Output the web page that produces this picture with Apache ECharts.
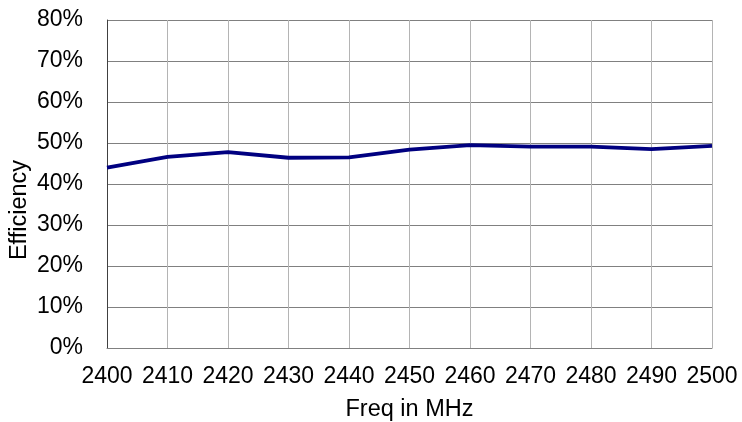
<!DOCTYPE html>
<html>
<head>
<meta charset="utf-8">
<script src="https://cdn.jsdelivr.net/npm/echarts@6/dist/echarts.min.js"></script>
<style>html,body{margin:0;padding:0;background:#fff}#c{width:742px;height:422px}</style>
</head>
<body>
<div id="c"></div>
<script>
var freqs = [2400, 2410, 2420, 2430, 2440, 2450, 2460, 2470, 2480, 2490, 2500];
var efficiency = [44.0, 46.6, 47.8, 46.4, 46.5, 48.4, 49.5, 49.1, 49.1, 48.5, 49.3];
var seriesName = 'Efficiency';
var xTitle = 'Freq in MHz';
var yTitle = 'Efficiency';

var chart = echarts.init(document.getElementById('c'));
var font = 'Liberation Sans, Arial, sans-serif';
chart.setOption({
  animation: false,
  grid: {left: 107, right: 30, top: 20, bottom: 74, containLabel: false, outerBoundsMode: 'none'},
  xAxis: {
    type: 'value', min: 2400, max: 2500, interval: 10,
    name: xTitle, nameLocation: 'middle', nameGap: 50,
    nameTextStyle: {fontFamily: font, fontSize: 23.5, color: '#000'},
    axisLine: {show: true, lineStyle: {color: '#808080', width: 1}},
    axisTick: {show: false},
    axisLabel: {fontFamily: font, fontSize: 23, color: '#000', margin: 17,
      formatter: function (v) { return String(v); }},
    splitLine: {show: true, lineStyle: {color: '#b4b4b4', width: 1}}
  },
  yAxis: {
    type: 'value', min: 0, max: 80, interval: 10,
    name: yTitle, nameLocation: 'middle', nameGap: 75, nameRotate: 90, nameMoveOverlap: false,
    nameTextStyle: {fontFamily: font, fontSize: 23.5, color: '#000', padding: [0, 52, 0, 0]},
    axisLine: {show: true, lineStyle: {color: '#404040', width: 1}},
    axisTick: {show: false},
    axisLabel: {fontFamily: font, fontSize: 23, color: '#000', margin: 24, formatter: '{value}%'},
    splitLine: {show: true, lineStyle: {color: '#808080', width: 1}}
  },
  series: [{
    name: seriesName, type: 'line', symbol: 'none',
    data: freqs.map(function (f, i) { return [f, efficiency[i]]; }),
    lineStyle: {color: '#000080', width: 3.8}
  }]
});
</script>
</body>
</html>
